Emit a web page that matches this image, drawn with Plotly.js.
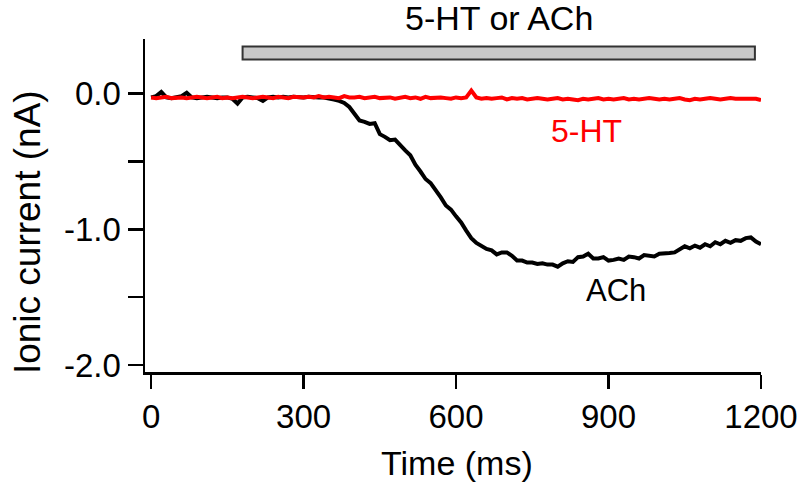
<!DOCTYPE html>
<html>
<head>
<meta charset="utf-8">
<script src="https://cdn.plot.ly/plotly-3.0.1.min.js"></script>
<style>
  html, body { margin: 0; padding: 0; background: #fff; }
  #chart { width: 800px; height: 487px; }
</style>
</head>
<body>
<div id="chart"></div>
<script>
// Time samples (ms)
const timeMs = [
  0,10,20,30,40,50,60,70,80,90,100,110,120,130,140,150,160,170,180,190,
  200,210,220,230,240,250,260,270,280,290,300,310,320,330,340,350,360,370,380,390,
  400,410,420,430,440,450,460,470,480,490,500,510,520,530,540,550,560,570,580,590,
  600,610,620,630,640,650,660,670,680,690,700,710,720,730,740,750,760,770,780,790,
  800,810,820,830,840,850,860,870,880,890,900,910,920,930,940,950,960,970,980,990,
  1000,1010,1020,1030,1040,1050,1060,1070,1080,1090,1100,1110,1120,1130,1140,1150,1160,1170,1180,1190,
  1200
];

// ACh response (nA)
const achCurrent = [
  -0.03,-0.02,0.01,-0.03,-0.035,-0.03,-0.02,0.005,-0.03,-0.035,-0.03,-0.025,-0.03,-0.035,-0.03,-0.03,-0.04,-0.075,-0.03,-0.025,
  -0.03,-0.035,-0.055,-0.03,-0.025,-0.03,-0.025,-0.03,-0.025,-0.03,-0.03,-0.025,-0.03,-0.03,-0.03,-0.035,-0.045,-0.055,-0.07,-0.1,
  -0.15,-0.2,-0.21,-0.225,-0.22,-0.3,-0.32,-0.345,-0.34,-0.385,-0.42,-0.455,-0.525,-0.575,-0.63,-0.66,-0.71,-0.765,-0.825,-0.855,
  -0.905,-0.95,-1.01,-1.065,-1.1,-1.12,-1.145,-1.155,-1.185,-1.17,-1.17,-1.195,-1.23,-1.23,-1.245,-1.245,-1.255,-1.25,-1.26,-1.26,
  -1.275,-1.25,-1.235,-1.24,-1.205,-1.2,-1.18,-1.215,-1.215,-1.205,-1.23,-1.225,-1.215,-1.225,-1.2,-1.205,-1.215,-1.19,-1.195,-1.2,
  -1.18,-1.18,-1.175,-1.17,-1.145,-1.125,-1.14,-1.12,-1.135,-1.11,-1.125,-1.095,-1.11,-1.085,-1.1,-1.08,-1.085,-1.065,-1.06,-1.09,
  -1.11
];

// 5-HT response (nA)
const htCurrent = [
  -0.03,-0.035,-0.03,-0.025,-0.035,-0.03,-0.03,-0.035,-0.03,-0.025,-0.03,-0.035,-0.03,-0.025,-0.035,-0.03,-0.035,-0.03,-0.025,-0.03,
  -0.035,-0.03,-0.025,-0.03,-0.035,-0.025,-0.03,-0.035,-0.025,-0.03,-0.03,-0.025,-0.03,-0.02,-0.03,-0.025,-0.03,-0.035,-0.02,-0.03,
  -0.03,-0.025,-0.035,-0.03,-0.025,-0.035,-0.03,-0.03,-0.04,-0.03,-0.025,-0.035,-0.03,-0.04,-0.025,-0.035,-0.03,-0.03,-0.035,-0.04,
  -0.03,-0.035,-0.03,0.02,-0.03,-0.04,-0.035,-0.04,-0.035,-0.03,-0.045,-0.035,-0.04,-0.035,-0.045,-0.04,-0.035,-0.04,-0.045,-0.04,
  -0.035,-0.045,-0.04,-0.045,-0.05,-0.04,-0.045,-0.04,-0.035,-0.045,-0.04,-0.045,-0.04,-0.035,-0.045,-0.04,-0.045,-0.04,-0.035,-0.04,
  -0.045,-0.04,-0.045,-0.04,-0.035,-0.045,-0.05,-0.04,-0.045,-0.04,-0.035,-0.04,-0.045,-0.04,-0.035,-0.04,-0.04,-0.035,-0.04,-0.04,
  -0.05
];

// Application period of the agonist (ms) and bar height (nA)
const stimPeriod = [180, 1188];
const stimBarY = [0.25, 0.345];

const xTickVals = [0, 300, 600, 900, 1200];
const xTickText = ['0', '300', '600', '900', '1200'];
const yTickVals = [-2.0, -1.5, -1.0, -0.5, 0.0];
const yTickText = ['-2.0', '', '-1.0', '', '0.0'];

const FONT = '"Liberation Sans", Arial, Helvetica, sans-serif';

const traces = [
  { x: timeMs, y: achCurrent, type: 'scatter', mode: 'lines',
    line: { color: '#000000', width: 4 }, name: 'ACh', hoverinfo: 'skip' },
  { x: timeMs, y: htCurrent, type: 'scatter', mode: 'lines',
    line: { color: '#ff0000', width: 4 }, name: '5-HT', hoverinfo: 'skip' }
];

const layout = {
  width: 800, height: 487,
  margin: { l: 145, r: 39, t: 39, b: 115 },
  paper_bgcolor: '#ffffff', plot_bgcolor: '#ffffff',
  showlegend: false,
  font: { family: FONT, size: 33, color: '#000' },
  xaxis: {
    range: [-12, 1200], showgrid: false, zeroline: false,
    showline: true, linecolor: '#000', linewidth: 2.5,
    ticks: 'outside', ticklen: 14, tickwidth: 2.5, tickcolor: '#000',
    tickmode: 'array', tickvals: xTickVals, ticktext: xTickText,
    tickfont: { family: FONT, size: 33, color: '#000' }
  },
  yaxis: {
    range: [-2.05, 0.4], showgrid: false, zeroline: false,
    showline: true, linecolor: '#000', linewidth: 2.5,
    ticks: 'outside', ticklen: 15, tickwidth: 2.5, tickcolor: '#000',
    tickmode: 'array', tickvals: yTickVals, ticktext: yTickText,
    tickfont: { family: FONT, size: 33, color: '#000' }
  },
  shapes: [
    { type: 'rect', xref: 'x', yref: 'y',
      x0: stimPeriod[0], x1: stimPeriod[1], y0: stimBarY[0], y1: stimBarY[1],
      fillcolor: '#c8c8c8', line: { color: '#333333', width: 2 } }
  ],
  annotations: [
    { text: '5-HT or ACh', xref: 'x', yref: 'paper',
      x: (stimPeriod[0] + stimPeriod[1]) / 2, y: 1.063,
      xanchor: 'center', yanchor: 'middle', showarrow: false,
      font: { family: FONT, size: 34, color: '#000' } },
    { text: '5-HT', xref: 'x', yref: 'y', x: 857, y: -0.28,
      xanchor: 'center', yanchor: 'middle', showarrow: false,
      font: { family: FONT, size: 32, color: '#ff0000' } },
    { text: 'ACh', xref: 'x', yref: 'y', x: 915, y: -1.45,
      xanchor: 'center', yanchor: 'middle', showarrow: false,
      font: { family: FONT, size: 31, color: '#000' } },
    { text: 'Time (ms)', xref: 'paper', yref: 'paper',
      x: (457 - 145) / 616, y: -0.273,
      xanchor: 'center', yanchor: 'middle', showarrow: false,
      font: { family: FONT, size: 34, color: '#000' } },
    { text: 'Ionic current (nA)', xref: 'paper', yref: 'paper',
      x: -0.1916, y: 0.42, textangle: -90,
      xanchor: 'center', yanchor: 'middle', showarrow: false,
      font: { family: FONT, size: 37, color: '#000' } }
  ]
};

Plotly.newPlot('chart', traces, layout, { staticPlot: true, displayModeBar: false });
</script>
</body>
</html>
